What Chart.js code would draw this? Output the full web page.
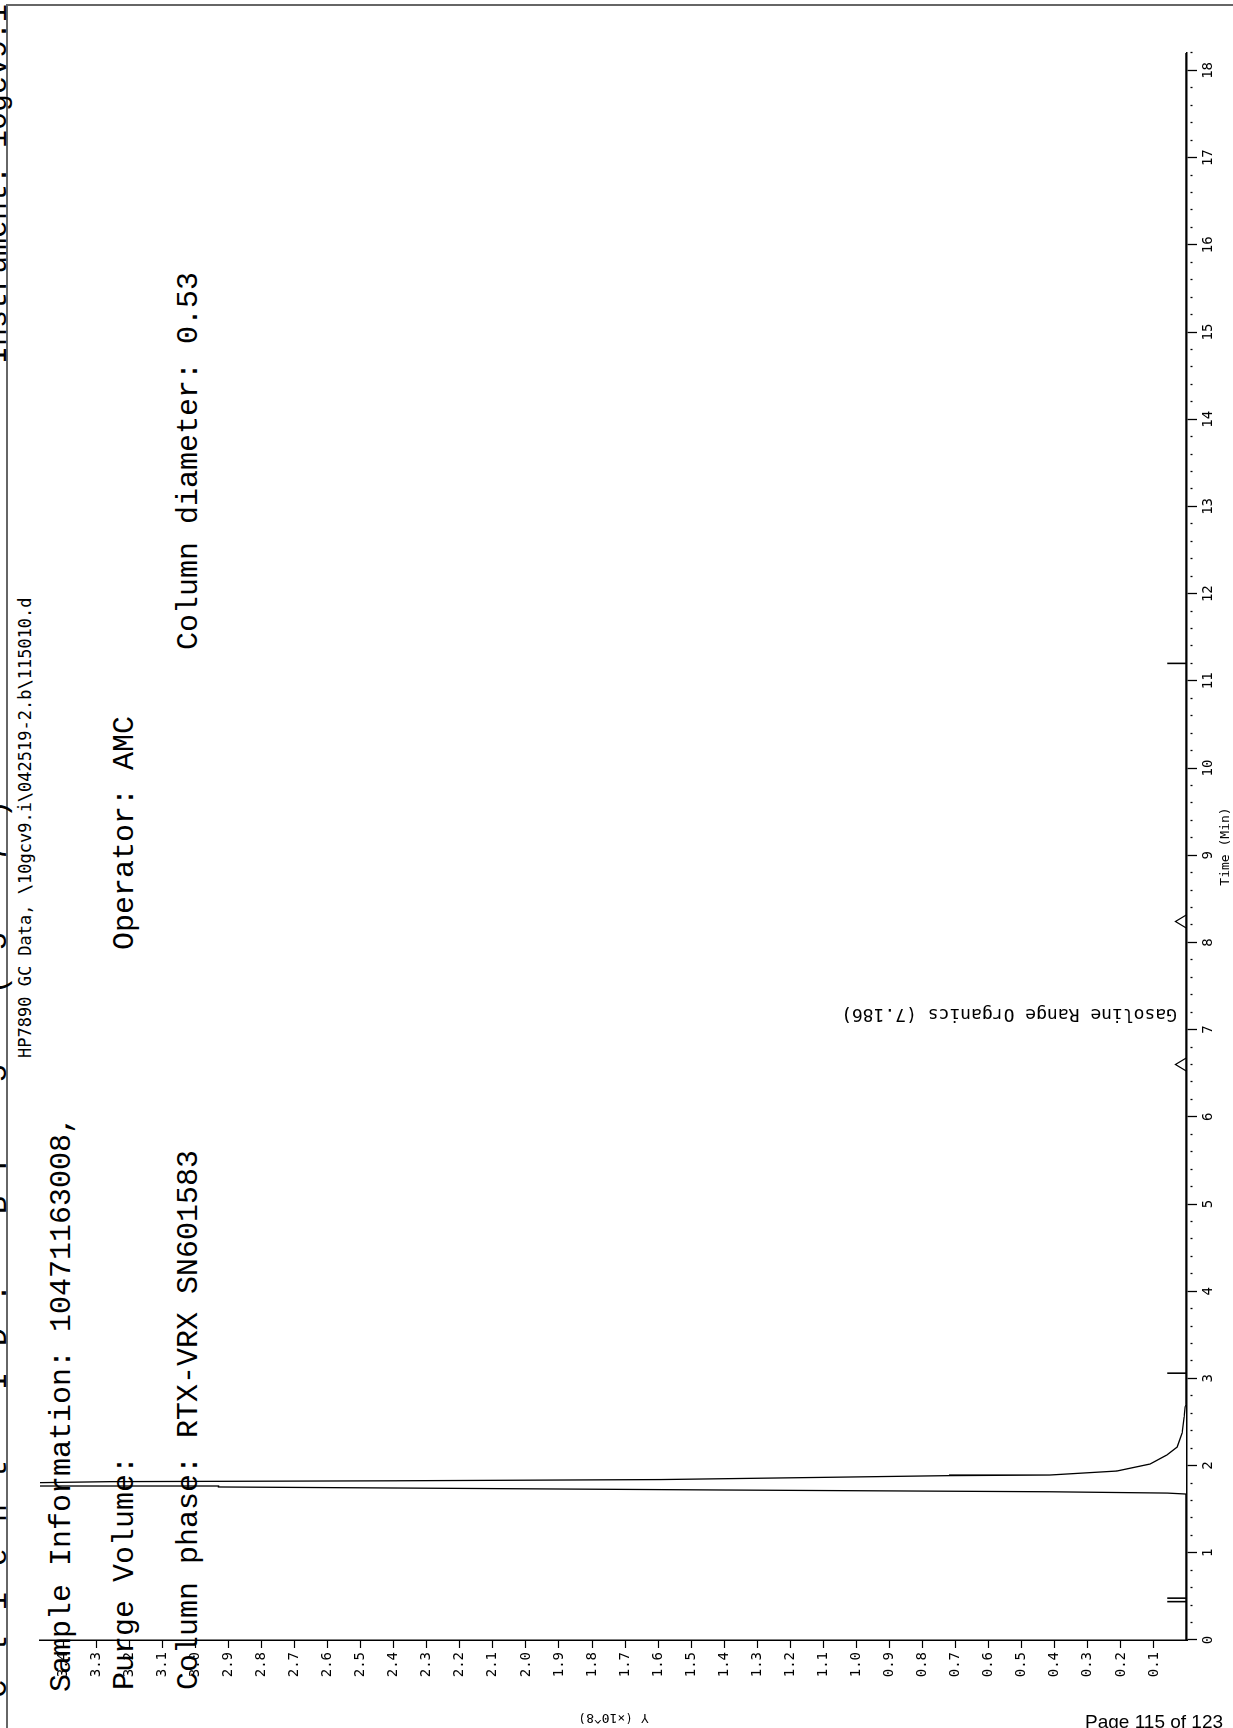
<!DOCTYPE html>
<html>
<head>
<meta charset="utf-8">
<script src="https://cdn.jsdelivr.net/npm/chart.js@4.4.1/dist/chart.umd.min.js"></script>
<style>
  html, body { margin: 0; padding: 0; background: #fff; width: 1233px; height: 1728px; overflow: hidden; }
  /* the printed page is landscape, turned a quarter left on the sheet */
  #page { position: absolute; left: 0; top: 0; width: 1728px; height: 1233px;
          transform-origin: 0 0; transform: translate(0, 1728px) rotate(-90deg); }
  #frame { position: absolute; left: -20px; top: 6px; width: 1744px; height: 1400px;
           box-sizing: border-box; border: 2px solid #666; }
  .t  { position: absolute; white-space: pre; color: #000;
        font-family: "Liberation Mono", "Courier New", monospace; font-size: 30px; line-height: 30px; }
  .sm { font-family: "DejaVu Sans Mono", monospace; font-size: 17px; line-height: 17px; }
  #chartBox { position: absolute; left: 0; top: 0; width: 1728px; height: 1233px; }
  #footer { position: absolute; left: 1085px; top: 1711px; white-space: pre;
            font-family: "Liberation Sans", Arial, sans-serif; font-size: 19px; color: #000; }
</style>
</head>
<body>
<div id="page">
  <div id="frame"></div>
  <div class="t" style="left:30px; top:-17px; letter-spacing:26px">Client ID: BF 5 (5-7)</div>
  <div class="t" style="left:1364px; top:-17px">Instrument: 10gcv9.i</div>
  <div class="t sm" style="left:670px; top:17px">HP7890 GC Data, \10gcv9.i\042519-2.b\115010.d</div>
  <div class="t" style="left:36px; top:47px">Sample Information: 10471163008,</div>
  <div class="t" style="left:38px; top:110px">Purge Volume:</div>
  <div class="t" style="left:778px; top:110px">Operator: AMC</div>
  <div class="t" style="left:38px; top:174px">Column phase: RTX-VRX SN601583</div>
  <div class="t" style="left:1078px; top:174px">Column diameter: 0.53</div>
  <div id="chartBox"><canvas id="chart-gc" width="1728" height="1233"></canvas></div>
</div>
<div id="footer">Page 115 of 123</div>

<script>
// ── DATA (time in min, response in x10^8) ─────────────────────
const traceTime   = [0, 1.674, 1.685, 1.70, 1.72, 1.743, 1.755, 1.766, 1.775, 1.80, 1.816, 1.826, 1.84,
                     1.874, 1.885, 1.892, 1.938, 2.018, 2.122, 2.213, 2.374, 2.557, 2.672, 2.70, 18.2];
const traceSignal = [0.003, 0.003, 0.06, 0.415, 1.39, 2.39, 2.93, 3.47, 3.55, 3.55, 3.26, 2.39, 1.59,
                     0.93, 0.72, 0.415, 0.212, 0.112, 0.061, 0.030, 0.015, 0.009, 0.006, 0.003, 0.003];

const eventTimes   = [0.44, 0.48, 3.06, 11.2];   // short event marks on the baseline
const eventHeight  = 0.06;
const windowTimes  = [6.6, 8.24];                // GRO window markers
const windowHeight = 0.035;
const windowHalf   = 0.08;

const peakName = 'Gasoline Range Organics';
const peakRT   = 7.186;

const timeMin = 0,  timeMax = 18.2, timeMinorStep = 0.2;
const sigMin  = 0,  sigMax  = 3.47, sigStep = 0.1;

// ── BUILD POINTS ──────────────────────────────────────────────
const tracePts = traceTime.map((t, i) => ({ x: t, y: traceSignal[i] }));

const eventPts = [];
eventTimes.forEach(t => { eventPts.push({ x: t, y: 0 }, { x: t, y: eventHeight }, { x: t, y: null }); });

const windowPts = [];
windowTimes.forEach(t => {
  windowPts.push({ x: t - windowHalf, y: 0 }, { x: t, y: windowHeight }, { x: t + windowHalf, y: 0 }, { x: t, y: null });
});

const isWhole = (v, step) => Math.abs(v / step - Math.round(v / step)) < 1e-6;
const TICK_FONT = { family: 'DejaVu Sans Mono', size: 14 };

const peakLabel = {
  id: 'peakLabel',
  afterDatasetsDraw(chart) {
    const { ctx, scales: { x, y } } = chart;
    ctx.save();
    ctx.translate(x.getPixelForValue(peakRT), y.getPixelForValue(0) - 10);
    ctx.rotate(-Math.PI / 2);
    ctx.font = '18px "DejaVu Sans Mono"';
    ctx.fillStyle = '#000';
    ctx.textAlign = 'left';
    ctx.textBaseline = 'middle';
    ctx.fillText(peakName + ' (' + peakRT.toFixed(3) + ')', 0, 0);
    ctx.restore();
  }
};

new Chart(document.getElementById('chart-gc').getContext('2d'), {
  type: 'line',
  data: {
    datasets: [
      { data: tracePts,  borderColor: '#000', borderWidth: 1.3, pointRadius: 0, tension: 0 },
      { data: eventPts,  borderColor: '#000', borderWidth: 1.6, pointRadius: 0, spanGaps: false },
      { data: windowPts, borderColor: '#000', borderWidth: 1.2, pointRadius: 0, spanGaps: false },
    ],
  },
  options: {
    responsive: false,
    animation: false,
    layout: { padding: { top: 40, right: 53, bottom: 0, left: 0 } },
    plugins: { legend: { display: false }, tooltip: { enabled: false } },
    scales: {
      x: {
        type: 'linear', position: 'bottom', min: timeMin, max: timeMax,
        afterFit: s => { s.height = 46; },
        border: { color: '#000', width: 1.5 },
        grid: {
          drawOnChartArea: false, tickLength: 10, tickColor: '#000', tickWidth: 1.3,
          tickBorderDash: c => (c.tick && isWhole(c.tick.value, 1)) ? [] : [0, 3, 2, 100],
        },
        ticks: {
          stepSize: timeMinorStep, autoSkip: false, maxRotation: 0, minRotation: 0,
          color: '#000', font: TICK_FONT, padding: 3,
          callback: v => isWhole(v, 1) ? String(Math.round(v)) : '',
        },
        title: { display: true, text: 'Time (Min)', color: '#000',
                 font: { family: 'DejaVu Sans Mono', size: 13 }, padding: { top: 0, bottom: 0 } },
      },
      y: {
        type: 'linear', position: 'left', min: sigMin, max: sigMax,
        afterFit: s => { s.width = 88; },
        border: { color: '#000', width: 1.5, dash: [1.5, 5.1] },
        grid: {
          drawOnChartArea: false, tickLength: 8, tickWidth: 1.2,
          tickColor: c => (c.tick && c.tick.value > 0 && isWhole(c.tick.value, sigStep)) ? '#000' : 'rgba(0,0,0,0)',
        },
        ticks: {
          stepSize: sigStep, autoSkip: false, color: '#000', font: TICK_FONT, padding: 4,
          callback: v => (v > 0 && isWhole(v, sigStep)) ? v.toFixed(1) : '',
        },
        title: { display: true, text: 'Y (×10^8)', color: '#000',
                 font: { family: 'DejaVu Sans Mono', size: 13 }, padding: { top: 3, bottom: 0 } },
      },
    },
  },
  plugins: [peakLabel],
});
</script>
</body>
</html>
